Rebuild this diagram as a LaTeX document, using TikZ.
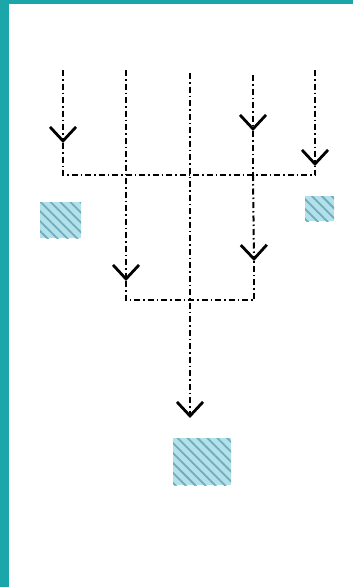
\documentclass[tikz,border=0pt]{standalone}
\usetikzlibrary{arrows.meta,patterns.meta}
\definecolor{bordteal}{RGB}{27,167,169}
\definecolor{boxblue}{RGB}{178,225,234}
\definecolor{hatchblue}{RGB}{112,172,188}
\begin{document}
\begin{tikzpicture}[x=1pt,y=-1pt,
  flow/.style={black,line width=2pt,dash pattern=on 6pt off 3pt on 1.5pt off 3pt},
  barb/.style={-{Straight Barb[width=26pt,length=14pt,line width=2.8pt]}},
  hatchbox/.style={draw=none,inner sep=0pt,preaction={fill=boxblue},
    pattern={Lines[angle=-45,distance=7pt,line width=1.8pt]},pattern color=hatchblue}]
\useasboundingbox (0,0) rectangle (353,587);
\fill[bordteal] (0,0) rectangle (353,4);
\fill[bordteal] (0,0) rectangle (9,587);
% boxes
\node[hatchbox,minimum width=41pt,minimum height=36pt] (lbox) at (60.5,220) {};
\node[hatchbox,minimum width=29pt,minimum height=25pt] (rbox) at (319.5,208.5) {};
\node[hatchbox,minimum width=58pt,minimum height=47pt] (mbox) at (202,461.5) {};
% upper ends
\coordinate (t1) at (63,70);
\coordinate (t2) at (126,70);
\coordinate (t3) at (190,73);
\coordinate (t4) at (253,75);
\coordinate (t5) at (315,70);
% arrow tips
\coordinate (a1) at (63,143);
\coordinate (a4) at (253,131);
\coordinate (a5) at (315,166);
\coordinate (a2) at (126,281);
\coordinate (b4) at (254,261);
\coordinate (a3) at (190,418);
% joins
\coordinate (j1) at (63,175);
\coordinate (j4) at (253,175);
\coordinate (j5) at (315,175);
\coordinate (k2) at (126,300);
\coordinate (k4) at (254,300);
\draw[flow,barb] (t1) -- (a1);
\draw[flow] (a1) -- (j1) -- (j5) -- (a5);
\draw[flow,barb] (t5) -- (a5);
\draw[flow,barb] (t4) -- (a4);
\draw[flow] (a4) -- (j4);
\draw[flow,barb] (j4) -- (b4);
\draw[flow,barb] (t2) -- (a2);
\draw[flow] (a2) -- (k2) -- (k4) -- (b4);
\draw[flow,barb] (t3) -- (a3);
\end{tikzpicture}
\end{document}
